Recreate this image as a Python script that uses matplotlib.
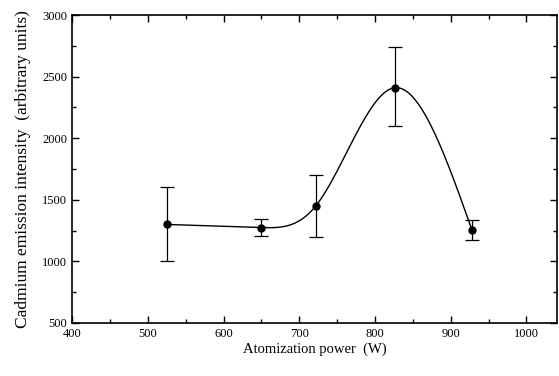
import numpy as np
import matplotlib
matplotlib.use('agg')
import matplotlib.pyplot as plt
from matplotlib.ticker import MultipleLocator

# Data
power = [525, 650, 722, 826, 928]
intensity = [1300, 1275, 1452, 2410, 1255]
err_low = [300, 70, 252, 310, 78]
err_high = [300, 70, 252, 330, 80]


def natural_spline(x, y, n=300):
    # Natural cubic spline through the measured points
    x = np.asarray(x, float)
    y = np.asarray(y, float)
    k = len(x)
    h = np.diff(x)
    A = np.zeros((k, k))
    b = np.zeros(k)
    A[0, 0] = A[-1, -1] = 1
    for i in range(1, k - 1):
        A[i, i - 1] = h[i - 1]
        A[i, i] = 2 * (h[i - 1] + h[i])
        A[i, i + 1] = h[i]
        b[i] = 3 * ((y[i + 1] - y[i]) / h[i] - (y[i] - y[i - 1]) / h[i - 1])
    c = np.linalg.solve(A, b)
    xs = np.linspace(x[0], x[-1], n)
    ys = np.empty_like(xs)
    for j, xv in enumerate(xs):
        i = min(np.searchsorted(x, xv, side='right') - 1, k - 2)
        bi = (y[i + 1] - y[i]) / h[i] - h[i] * (2 * c[i] + c[i + 1]) / 3
        di = (c[i + 1] - c[i]) / (3 * h[i])
        t = xv - x[i]
        ys[j] = y[i] + bi * t + c[i] * t ** 2 + di * t ** 3
    return xs, ys


plt.rcParams['font.family'] = ['Liberation Serif', 'DejaVu Serif']

fig = plt.figure(figsize=(5.59, 3.76), dpi=100)
ax = fig.add_axes([0.129, 0.141, 0.867, 0.819])

xs, ys = natural_spline(power, intensity)
ax.plot(xs, ys, color='black', linewidth=1.0)
ax.errorbar(power, intensity, yerr=[err_low, err_high], fmt='o', color='black',
            markersize=5, elinewidth=0.9, capsize=5, capthick=0.9)

ax.set_xlim(400, 1040)
ax.set_ylim(500, 3000)
ax.xaxis.set_major_locator(MultipleLocator(100))
ax.xaxis.set_minor_locator(MultipleLocator(50))
ax.yaxis.set_major_locator(MultipleLocator(500))
ax.yaxis.set_minor_locator(MultipleLocator(250))
ax.tick_params(which='both', direction='in', top=True, right=True,
               labelsize=9, width=1.0)
ax.tick_params(which='major', length=5)
ax.tick_params(which='minor', length=3)
for s in ax.spines.values():
    s.set_linewidth(1.2)

ax.set_xlabel('Atomization power  (W)', fontsize=10.5, labelpad=2)
ax.set_ylabel('Cadmium emission intensity  (arbitrary units)', fontsize=12.5,
              labelpad=8)

fig.savefig('out.png', dpi=100)
